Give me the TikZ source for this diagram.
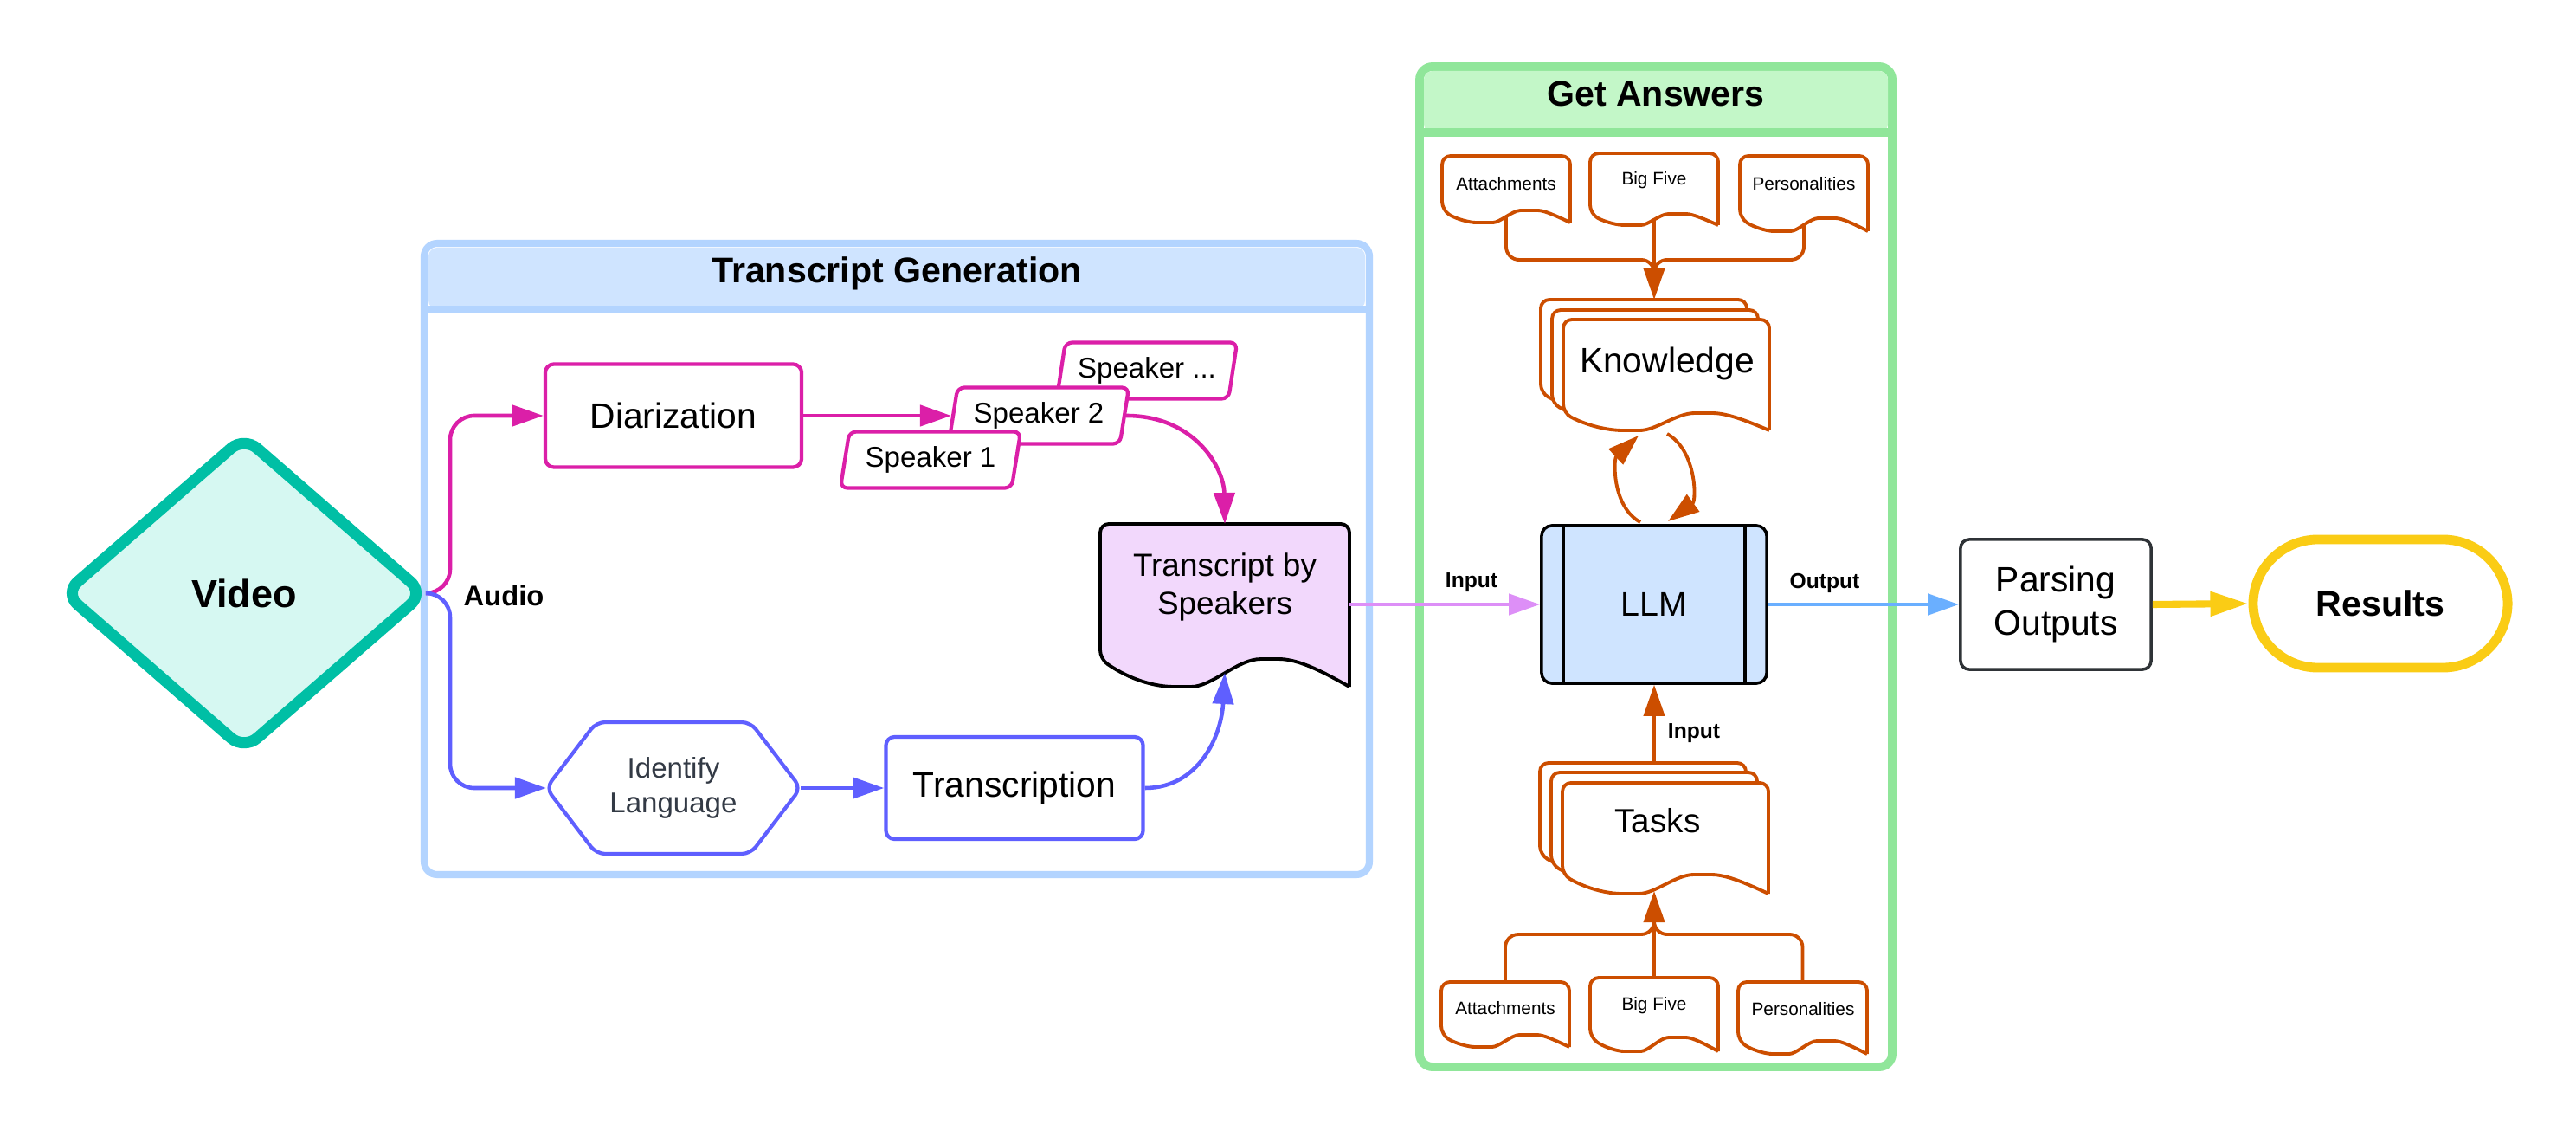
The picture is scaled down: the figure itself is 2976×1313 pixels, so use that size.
\documentclass[tikz,border=0pt]{standalone}
\usepackage{fontspec}
\setmainfont{Liberation Sans}
\usetikzlibrary{arrows.meta,shapes.geometric,positioning}

\definecolor{cteal}{HTML}{00BFA5}
\definecolor{cteallt}{HTML}{D6F8F2}
\definecolor{cmag}{HTML}{DB1FA8}
\definecolor{cvio}{HTML}{5F5FFF}
\definecolor{cblue}{HTML}{B3D4FF}
\definecolor{cbluelt}{HTML}{CFE4FF}
\definecolor{cpurp}{HTML}{F2D8FC}
\definecolor{cpink}{HTML}{DD8FF7}
\definecolor{csky}{HTML}{6AAFFF}
\definecolor{cgreen}{HTML}{90E69A}
\definecolor{cgreenlt}{HTML}{C3F7C8}
\definecolor{corg}{HTML}{CC4E00}
\definecolor{cyel}{HTML}{FACC15}
\definecolor{cgray}{HTML}{2F3337}
\definecolor{ctext}{HTML}{333A45}

\tikzset{
  arw/.style={-{Triangle[length=0.36cm,width=0.24cm]}},
  procbox/.style={draw, rounded corners=0.1cm, fill=white, inner sep=2pt, align=center, font=\fontsize{11.6}{14.2}\selectfont},
  spkbox/.style={trapezium, trapezium stretches=true, trapezium left angle=77, trapezium right angle=103, draw=cmag, line width=1.2pt, fill=white, rounded corners=0.08cm, minimum width=2.09cm, minimum height=0.65cm, inner sep=1pt, font=\fontsize{9.4}{11}\selectfont},
  orgdoc/.style={draw=corg, line width=1.1pt, fill=white, rounded corners=0.1cm},
  orgline/.style={draw=corg, line width=1.1pt},
  magline/.style={draw=cmag, line width=1.3pt},
  violine/.style={draw=cvio, line width=1.3pt},
  smalltxt/.style={font=\fontsize{5.9}{7}\selectfont},
  iotxt/.style={font=\bfseries\fontsize{7}{8}\selectfont},
  titletxt/.style={font=\bfseries\fontsize{11.7}{13}\selectfont},
}

% document shape: [style]{name}{x0}{y0}{w}{h}{wave}
\newcommand{\docshape}[7][]{%
  \draw[#1] (#3+#5,#4+#6+#7) -- (#3+#5,#4) -- (#3,#4) -- (#3,#4+#6)
    .. controls (#3+0.12*#5,#4+#6+0.75*#7) and (#3+0.22*#5,#4+#6+#7) .. (#3+0.33*#5,#4+#6+#7)
    .. controls (#3+0.45*#5,#4+#6+#7) and (#3+0.55*#5,#4+#6) .. (#3+0.68*#5,#4+#6)
    .. controls (#3+0.8*#5,#4+#6) and (#3+0.9*#5,#4+#6+0.5*#7) .. (#3+#5,#4+#6+#7);
  \coordinate (#2-n) at (#3+0.5*#5,#4);
  \coordinate (#2-s) at (#3+0.5*#5,#4+#6+0.5*#7);
  \coordinate (#2-e) at (#3+#5,#4+0.5*#6);
}

\begin{document}
\begin{tikzpicture}[x=0.01cm,y=-0.01cm]
\path[use as bounding box, fill=white] (0,0) rectangle (2976,1313);

% containers
\draw[cblue, line width=2.3pt, rounded corners=0.15cm, fill=white] (490,281) rectangle (1582,1010);
\fill[cbluelt, rounded corners=0.1cm] (495,286) rectangle (1577,357);
\draw[cblue, line width=2.3pt] (490,357) -- (1582,357);
\node[titletxt] (tgtitle) at (1036,316) {Transcript Generation};

\draw[cgreen, line width=2.8pt, rounded corners=0.15cm, fill=white] (1640,77) rectangle (2186,1232);
\fill[cgreenlt, rounded corners=0.1cm] (1645,82) rectangle (2181,153);
\draw[cgreen, line width=2.8pt] (1640,153) -- (2186,153);
\node[titletxt] (gatitle) at (1913,108) {Get Answers};

% transcript generation
\node[diamond, aspect=1.14, draw=cteal, fill=cteallt, line width=3.7pt, rounded corners=0.2cm, minimum width=4.2cm, minimum height=3.66cm, inner sep=0pt, font=\bfseries\fontsize{12.8}{14}\selectfont] (video) at (282,685) {Video};
\node[font=\bfseries\fontsize{9.3}{11}\selectfont] (audio) at (582,688) {Audio};
\coordinate (aud) at (520,685);

\node[procbox, draw=cmag, line width=1.2pt, minimum width=2.96cm, minimum height=1.19cm] (diar) at (778,480) {Diarization};
\node[spkbox] (sp3) at (1325,428) {Speaker ...};
\node[spkbox] (sp2) at (1200,480) {Speaker 2};
\node[spkbox] (sp1) at (1075,531) {Speaker 1};

\draw[cvio, line width=1.2pt, rounded corners=0.1cm, fill=white] (631,910) -- (689,834) -- (867,834) -- (925,910) -- (867,986) -- (689,986) -- cycle;
\node[align=center, text=ctext, font=\fontsize{9.4}{11.4}\selectfont] (idlang) at (778,910) {Identify\\Language};
\coordinate (idlang-w) at (631,910);
\coordinate (idlang-e) at (925,910);

\node[procbox, draw=cvio, line width=1.2pt, minimum width=2.97cm, minimum height=1.18cm] (transcr) at (1172,910) {Transcription};

\docshape[draw=black, line width=1.1pt, fill=cpurp, rounded corners=0.1cm]{tbs}{1271}{605}{288}{156}{32}
\node[align=center, font=\fontsize{10.5}{12.5}\selectfont] (tbslbl) at (1415,678) {Transcript by\\Speakers};

\draw[magline, arw, rounded corners=0.28cm] (video.east) -- (aud) |- (diar.west);
\draw[violine, arw, rounded corners=0.28cm] (video.east) -- (aud) |- (idlang-w);
\draw[magline, arw] (diar.east) -- (diar.east -| sp2.west);
\draw[magline, arw] (sp2.east) .. controls (1380,480) and (1414,540) .. (tbs-n);
\draw[violine, arw] (idlang-e) -- (transcr.west);
\draw[violine, arw] (transcr.east) .. controls (1385,910) and (1411,850) .. (tbs-s);

% get answers
\docshape[orgdoc]{att1}{1666}{180}{148}{63}{14}
\docshape[orgdoc]{bf1}{1837}{177}{148}{70}{13}
\docshape[orgdoc]{per1}{2010}{180}{148}{72}{15}
\node[smalltxt] (att1lbl) at (1740,212) {Attachments};
\node[smalltxt] (bf1lbl) at (1911,208) {Big Five};
\node[smalltxt] (per1lbl) at (2084,212) {Personalities};

\docshape[orgdoc]{knc}{1780}{346}{238}{108}{20}
\docshape[orgdoc]{knb}{1793}{358}{238}{108}{20}
\docshape[orgdoc]{kn}{1806}{369}{238}{108}{20}
\node[font=\fontsize{11.6}{13}\selectfont] (knlbl) at (1926,420) {Knowledge};

\coordinate (kn-join) at (1911,300);
\coordinate (kn-join2) at (1911,320);
\draw[orgline, rounded corners=0.15cm] (att1-s) |- (kn-join) -- (kn-join2);
\draw[orgline, rounded corners=0.15cm] (per1-s) |- (kn-join) -- (kn-join2);
\draw[orgline, arw] (bf1-s) -- (bf1-s |- knc-n);

\node[draw=black, line width=1pt, fill=cbluelt, rounded corners=0.12cm, minimum width=2.6cm, minimum height=1.82cm, font=\fontsize{11.2}{13}\selectfont] (llm) at (1911,698) {LLM};
\draw[line width=1pt] ([xshift=0.27cm]llm.north west) -- ([xshift=0.27cm]llm.south west);
\draw[line width=1pt] ([xshift=-0.27cm]llm.north east) -- ([xshift=-0.27cm]llm.south east);

\coordinate (llm-la) at (1895,603);
\coordinate (kn-la) at (1893,503);
\coordinate (kn-lb) at (1926,501);
\coordinate (llm-lb) at (1927,602);
\draw[orgline, arw] (llm-la) .. controls (1862,585) and (1864,530) .. (kn-la);
\draw[orgline, arw] (kn-lb) .. controls (1960,520) and (1960,578) .. (llm-lb);

\docshape[orgdoc]{tsc}{1779}{881}{238}{106}{22}
\docshape[orgdoc]{tsb}{1792}{892}{238}{106}{22}
\docshape[orgdoc]{ts}{1805}{904}{238}{106}{22}
\node[font=\fontsize{11}{13}\selectfont] (tslbl) at (1915,948) {Tasks};

\draw[orgline, arw] (llm.south |- tsc-n) -- (llm.south);
\node[iotxt] (in2) at (1957,847) {Input};

\docshape[orgdoc]{att2}{1665}{1134}{148}{61}{14}
\docshape[orgdoc]{bf2}{1837}{1129}{148}{69}{16}
\docshape[orgdoc]{per2}{2008}{1134}{149}{68}{15}
\node[smalltxt] (att2lbl) at (1739,1164) {Attachments};
\node[smalltxt] (bf2lbl) at (1911,1161) {Big Five};
\node[smalltxt] (per2lbl) at (2083,1165) {Personalities};

\coordinate (ts-join) at (1911,1079);
\coordinate (ts-join2) at (1911,1060);
\coordinate (ts-in) at (1911,1029);
\draw[orgline, rounded corners=0.15cm] (att2-n) |- (ts-join) -- (ts-join2);
\draw[orgline, rounded corners=0.15cm] (per2-n) |- (ts-join) -- (ts-join2);
\draw[orgline, arw] (bf2-n) -- (ts-in);

% outputs
\node[procbox, draw=cgray, line width=1pt, minimum width=2.2cm, minimum height=1.5cm] (parse) at (2375,698) {Parsing\\Outputs};
\node[draw=cyel, line width=3.1pt, rounded corners=0.75cm, minimum width=2.94cm, minimum height=1.48cm, font=\bfseries\fontsize{11.7}{13}\selectfont] (res) at (2750,697) {Results};

\draw[cpink, line width=1.2pt, arw] (llm.west -| tbs-e) -- (llm.west);
\node[iotxt] (in1) at (1700,673) {Input};
\draw[csky, line width=1.4pt, arw] (llm.east) -- (parse.west);
\node[iotxt] (out1) at (2108,673) {Output};
\draw[cyel, line width=2.3pt, -{Triangle[length=0.44cm,width=0.27cm]}] (parse.east) -- (res.west);
\end{tikzpicture}
\end{document}
